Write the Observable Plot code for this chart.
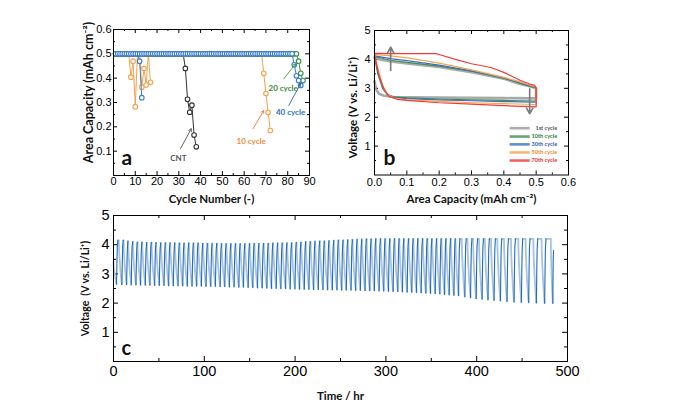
<!DOCTYPE html>
<html><head><meta charset="utf-8">
<script src="https://cdn.jsdelivr.net/npm/d3@7"></script>
<script src="https://cdn.jsdelivr.net/npm/@observablehq/plot@0.6"></script>
<style>
html,body{margin:0;padding:0;background:#fff;}
#wrap{position:relative;width:676px;height:418px;overflow:hidden;background:#fff;}
#wrap > svg{position:absolute;}
</style></head><body><div id="wrap"></div>
<script>
// ================= Panel a data (area capacity vs cycle) =================
const CNT_CAP = [0.5,0.5,0.5,0.5,0.5,0.5,0.5,0.5,0.5,0.5, 0.5,0.5,0.5,0.5,0.5,0.5,0.5,0.5,0.5,0.5, 0.5,0.5,0.5,0.5,0.5,0.5,0.5,0.5,0.5,0.5, 0.5,0.5, 0.44,0.313,0.26,0.289,0.166,0.118];
const ORANGE_A_CAP = [0.5,0.5,0.5,0.5,0.5,0.5,0.5, 0.404,0.47,0.283,0.5,0.5,0.363,0.44,0.372,0.5,0.383];
const ORANGE_B_CAP = [0.5,0.5,0.5,0.5,0.5,0.5,0.5,0.5,0.5,0.5, 0.5,0.5,0.5,0.5,0.5,0.5,0.5,0.5,0.5,0.5, 0.5,0.5,0.5,0.5,0.5,0.5,0.5,0.5,0.5,0.5, 0.5,0.5,0.5,0.5,0.5,0.5,0.5,0.5,0.5,0.5, 0.5,0.5,0.5,0.5,0.5,0.5,0.5,0.5,0.5,0.5, 0.5,0.5,0.5,0.5,0.5,0.5,0.5,0.5,0.5,0.5, 0.5,0.5,0.5,0.5,0.5,0.5,0.5,0.5, 0.42,0.337,0.259,0.185];
const BLUE_A_CAP = [0.5,0.5,0.5,0.5,0.5,0.5,0.5,0.5,0.5,0.5,0.5, 0.47,0.32];
const GREEN_CAP = [0.5,0.5,0.5,0.5,0.5,0.5,0.5,0.5,0.5,0.5, 0.5,0.5,0.5,0.5,0.5,0.5,0.5,0.5,0.5,0.5, 0.5,0.5,0.5,0.5,0.5,0.5,0.5,0.5,0.5,0.5, 0.5,0.5,0.5,0.5,0.5,0.5,0.5,0.5,0.5,0.5, 0.5,0.5,0.5,0.5,0.5,0.5,0.5,0.5,0.5,0.5, 0.5,0.5,0.5,0.5,0.5,0.5,0.5,0.5,0.5,0.5, 0.5,0.5,0.5,0.5,0.5,0.5,0.5,0.5,0.5,0.5, 0.5,0.5,0.5,0.5,0.5,0.5,0.5,0.5,0.5,0.5, 0.5,0.5,0.5,0.5, 0.47,0.42,0.39];
const BLUE_B_CAP = [0.5,0.5,0.5,0.5,0.5,0.5,0.5,0.5,0.5,0.5, 0.5,0.5,0.5,0.5,0.5,0.5,0.5,0.5,0.5,0.5, 0.5,0.5,0.5,0.5,0.5,0.5,0.5,0.5,0.5,0.5, 0.5,0.5,0.5,0.5,0.5,0.5,0.5,0.5,0.5,0.5, 0.5,0.5,0.5,0.5,0.5,0.5,0.5,0.5,0.5,0.5, 0.5,0.5,0.5,0.5,0.5,0.5,0.5,0.5,0.5,0.5, 0.5,0.5,0.5,0.5,0.5,0.5,0.5,0.5,0.5,0.5, 0.5,0.5,0.5,0.5,0.5,0.5,0.5,0.5,0.5,0.5, 0.5,0.5, 0.455,0.41,0.39,0.37];
const A_SERIES = [
  {name:"orangeA", cap:ORANGE_A_CAP, color:"#f4a24c"},
  {name:"cnt", cap:CNT_CAP, color:"#333333"},
  {name:"orangeB", cap:ORANGE_B_CAP, color:"#f4a24c"},
  {name:"green", cap:GREEN_CAP, color:"#3c9444"},
  {name:"blueA", cap:BLUE_A_CAP, color:"#3a7ccc"},
  {name:"blueB", cap:BLUE_B_CAP, color:"#3a7ccc"}
];
const A_X_TICKS = [0,10,20,30,40,50,60,70,80,90];
const A_X_MINOR = [5,15,25,35,45,55,65,75,85];
const A_Y_TICKS = [0.1,0.2,0.3,0.4,0.5,0.6];
const A_Y_MINOR = [0.05,0.15,0.25,0.35,0.45,0.55];
const A_NOTES = [
  {text:"CNT", x:29.8, y:0.07, color:"#555555"},
  {text:"10 cycle", x:63.2, y:0.14, color:"#f08a3a"},
  {text:"20 cycle", x:77.9, y:0.358, color:"#3a8a3a"},
  {text:"40 cycle", x:81.3, y:0.259, color:"#2f6fc0"}
];
const A_ARROWS = [
  {x1:30.8, y1:0.111, x2:35.7, y2:0.192, color:"#555555"},
  {x1:64.1, y1:0.192, x2:69.0, y2:0.267, color:"#f07a30"},
  {x1:78.2, y1:0.397, x2:83.6, y2:0.459, color:"#3a9a3a"},
  {x1:80.5, y1:0.288, x2:85.9, y2:0.377, color:"#3366b0"}
];

// ================= Panel b data (voltage vs area capacity) =================
const B_CYCLES = [
  {label:"1st cycle", color:"#9a9a9a", text:"#555555", width:2.6,
   cap:[0,0.005,0.015,0.03,0.06,0.1,0.2,0.3,0.4,0.5,0.5,0.48,0.45,0.4,0.3,0.2,0.1,0.05,0.02,0],
   volt:[3.25,2.95,2.8,2.74,2.7,2.69,2.68,2.67,2.66,2.65,3.0,3.07,3.15,3.33,3.56,3.74,3.86,3.93,3.99,4.06]},
  {label:"10th cycle", color:"#3f8f4f", text:"#2e7d3a", width:1.2,
   cap:[0,0.01,0.025,0.04,0.06,0.1,0.2,0.3,0.4,0.5,0.5,0.48,0.4,0.3,0.2,0.1,0.05,0],
   volt:[4.1,3.5,3.0,2.78,2.7,2.67,2.63,2.6,2.58,2.56,3.02,3.07,3.35,3.59,3.77,3.9,3.97,4.1]},
  {label:"30th cycle", color:"#3a6fc4", text:"#2f5fb0", width:1.2,
   cap:[0,0.01,0.025,0.04,0.06,0.1,0.2,0.3,0.4,0.5,0.5,0.48,0.4,0.3,0.2,0.1,0.05,0],
   volt:[4.12,3.6,3.05,2.78,2.68,2.64,2.6,2.57,2.54,2.52,3.02,3.08,3.36,3.6,3.8,3.96,4.03,4.12]},
  {label:"50th cycle", color:"#f5a64a", text:"#f08a2a", width:1.2,
   cap:[0,0.01,0.025,0.04,0.06,0.1,0.2,0.3,0.4,0.5,0.5,0.48,0.45,0.4,0.3,0.2,0.1,0.05,0],
   volt:[4.17,3.7,3.1,2.8,2.66,2.6,2.55,2.5,2.47,2.44,3.04,3.12,3.22,3.38,3.64,3.87,4.05,4.12,4.17]},
  {label:"70th cycle", color:"#f03a3a", text:"#e83030", width:1.2,
   cap:[0,0.005,0.015,0.03,0.045,0.07,0.1,0.2,0.3,0.4,0.5,0.5,0.495,0.48,0.45,0.4,0.36,0.3,0.25,0.2,0.19,0.1,0],
   volt:[4.2,3.9,3.4,2.95,2.72,2.62,2.58,2.5,2.45,2.4,2.36,3.0,3.1,3.15,3.28,3.55,3.72,3.85,4.0,4.17,4.2,4.2,4.21]}
];
const B_X_TICKS = [0,0.1,0.2,0.3,0.4,0.5,0.6];
const B_X_MINOR = [0.05,0.15,0.25,0.35,0.45,0.55];
const B_Y_TICKS = [1,2,3,4,5];
const B_Y_MINOR = [0.5,1.5,2.5,3.5,4.5];
const B_LEGEND_Y = [1.62,1.33,1.06,0.78,0.5];
const B_ARROWS = [{x1:0.05, y1:3.62, x2:0.05, y2:4.42}, {x1:0.48, y1:2.98, x2:0.48, y2:2.12}];

// ================= Panel c data (voltage vs time) =================
// time (hr) at which each cycle leaves its top voltage, that top voltage, and the bottom voltage it falls to
const C_DROP_T = [5.8,11.0,16.1,21.3,26.4,31.6,36.7,41.9,47.0,52.2,57.3,62.5,67.6,72.8,77.9,83.1,88.2,93.4,98.5,103.7,
 108.8,114.0,119.1,124.3,129.4,134.6,139.7,144.9,150.0,155.2,160.3,165.5,170.6,175.8,180.9,186.1,191.2,196.4,201.5,206.7,
 211.8,217.0,222.1,227.3,232.4,237.6,242.7,247.9,253.0,258.2,263.3,268.5,273.6,278.8,283.9,289.1,294.2,299.4,304.5,309.7,
 314.8,320.0,325.1,330.3,335.4,340.6,345.7,350.9,356.0,361.2,366.3,371.5,376.6,383.5,389.8,396.0,402.5,409.0,415.7,422.7,
 430.0,437.7,445.8,453.8,462.3,471.4,481.6];
const C_TOP_V = [4.15,4.15,4.12,4.10, 4.08,4.08,4.07,4.07,4.07,4.06,4.06,4.06,4.06,4.05,4.05,4.05,4.05,4.05,4.04,4.04,
 4.04,4.04,4.03,4.03,4.03,4.03,4.03,4.03,4.03,4.04,4.04,4.04,4.04,4.05,4.05,4.05,4.06,4.06,4.07,4.08,
 4.10,4.10,4.11,4.12,4.12,4.13,4.14,4.15,4.15,4.16,4.17,4.18,4.18, 4.19,4.19,
 4.2,4.2,4.2,4.2,4.2,4.2,4.2,4.2,4.2,4.2,4.2,4.2,4.2,4.2,4.2,4.2,4.2,4.2,4.2,4.2,4.2,4.2,4.2,4.2,4.2,4.2,4.2,4.2,4.2,4.2,4.2,4.2];
const C_MIN_V = [2.64,2.64,2.63,2.63,2.62,2.62,2.62,2.61,2.61,2.61,2.60,2.60,2.60,2.60,2.59,2.59,2.59,2.59,2.58,2.58,2.58,2.57,2.57,2.56,
 2.56,2.55,2.55,2.54,2.54,2.53,2.53,2.52,2.51,2.51,2.50,2.50,2.49,2.49,2.48,2.48,2.48,2.47,2.47,2.47,2.46,2.46,2.46,2.45,
 2.45,2.45,2.44,2.44,2.43,2.43,2.43,2.42,2.42,2.41,2.41,2.40,2.39,2.38,2.38,2.37,2.36,2.35,2.34,2.33,2.32,2.30,2.29,2.27,2.26,
 2.22,2.19,2.16,2.14,2.12,2.10,2.08,2.06,2.04,2.03,2.02,2.01,2.0,2.0];
const C_START = {v0:3.4, vMin:2.65, tMin:3.3};
const C_END = {t:484.6, v:3.8, lastFall:2.2};
const C_FALL_HOURS = 3.4;  // slow (light) part of each cycle
const C_RISE_HOURS = 1.5;  // fast (dark) part of each cycle
const C_X_TICKS = [0,100,200,300,400,500];
const C_X_MINOR = [50,150,250,350,450];
const C_Y_TICKS = [1,2,3,4,5];
const C_Y_MINOR = [0.5,1.5,2.5,3.5,4.5];

// ---------- helpers ----------
const TICK_FONT = "'Liberation Sans', Arial, sans-serif";
const TITLE_FONT = "Lato, 'Open Sans', sans-serif";
function innerTicks(xs, ys, fw, fh, len) {
  return [
    Plot.tickX(xs, {x: d => d, insetTop: fh - len, stroke: "#000"}),
    Plot.tickX(xs, {x: d => d, insetBottom: fh - len, stroke: "#000"}),
    Plot.tickY(ys, {y: d => d, insetRight: fw - len, stroke: "#000"}),
    Plot.tickY(ys, {y: d => d, insetLeft: fw - len, stroke: "#000"})
  ];
}
function place(svg, left, top) {
  svg.style.left = left + "px"; svg.style.top = top + "px";
  document.getElementById("wrap").appendChild(svg);
}

// ================= Panel a =================
{
  const W = 338, H = 210, L = 113, R = 309, T = 29, B = 175;
  const rows = [];
  A_SERIES.forEach(s => s.cap.forEach((c, i) => rows.push({series: s.name, cycle: i + 1, cap: c, color: s.color})));
  const marks = [];
  for (const s of A_SERIES) {
    const d = rows.filter(r => r.series === s.name);
    marks.push(Plot.line(d, {x: "cycle", y: "cap", stroke: s.color, strokeWidth: 1}));
    marks.push(Plot.dot(d, {x: "cycle", y: "cap", stroke: s.color, fill: "white", r: 2.3, strokeWidth: 1.1}));
  }
  const svg = Plot.plot({
    width: W, height: H, marginLeft: L, marginRight: W - R, marginTop: T, marginBottom: H - B,
    x: {domain: [0, 90]}, y: {domain: [0, 0.6]},
    style: {fontFamily: TICK_FONT, fontSize: "11px", background: "transparent", overflow: "visible", color: "#000"},
    marks: [
      ...innerTicks(A_X_TICKS, A_Y_TICKS, R - L, B - T, 4),
      ...innerTicks(A_X_MINOR, A_Y_MINOR, R - L, B - T, 2),
      Plot.axisX({ticks: A_X_TICKS, tickSize: 0, tickPadding: 2, label: null, tickFormat: d => String(d)}),
      Plot.axisY({ticks: A_Y_TICKS, tickSize: 0, tickPadding: 2, label: null, tickFormat: d => d.toFixed(1)}),
      ...marks,
      Plot.arrow(A_ARROWS, {x1: "x1", y1: "y1", x2: "x2", y2: "y2", stroke: "color", strokeWidth: 0.9, headLength: 5}),
      Plot.text(A_NOTES, {x: "x", y: "y", text: "text", fill: "color", fontSize: 8, fontWeight: "bold", fontFamily: TITLE_FONT}),
      Plot.text(["a"], {text: d => d, frameAnchor: "bottom-left", dx: 8, dy: -11, lineAnchor: "bottom", textAnchor: "start", fontSize: 21, fontWeight: "bold", fontFamily: TITLE_FONT, fill: "#111"}),
      Plot.text(["Cycle Number (-)"], {text: d => d, frameAnchor: "bottom", dy: 24, lineAnchor: "middle", textAnchor: "middle", fontSize: 11.5, fontWeight: "bold", fontFamily: TITLE_FONT, fill: "#111"}),
      Plot.text(["Area Capacity (mAh cm⁻²)"], {text: d => d, frameAnchor: "left", dx: -25, dy: -10, rotate: -90, lineAnchor: "middle", textAnchor: "middle", fontSize: 12.5, fontWeight: "bold", fontFamily: TITLE_FONT, fill: "#111"}),
      Plot.frame({stroke: "#000", strokeWidth: 1})
    ]
  });
  place(svg, 0, 0);
}

// ================= Panel b =================
{
  const W = 338, H = 210, L = 374 - 338, R = 568 - 338, T = 30, B = 174.5;
  const rows = [];
  B_CYCLES.forEach(c => c.cap.forEach((x, i) => rows.push({label: c.label, cap: x, volt: c.volt[i]})));
  const legend = B_CYCLES.map((c, i) => ({label: c.label, color: c.color, text: c.text, y: B_LEGEND_Y[i]}));
  const marks = B_CYCLES.map(c => Plot.line(rows.filter(r => r.label === c.label), {x: "cap", y: "volt", stroke: c.color, strokeWidth: c.width, strokeOpacity: c.width > 2 ? 0.85 : 1}));
  const svg = Plot.plot({
    width: W, height: H, marginLeft: L, marginRight: W - R, marginTop: T, marginBottom: H - B,
    x: {domain: [0, 0.6]}, y: {domain: [0, 5]},
    style: {fontFamily: TICK_FONT, fontSize: "11px", background: "transparent", overflow: "visible", color: "#000"},
    marks: [
      ...innerTicks(B_X_TICKS, B_Y_TICKS, R - L, B - T, 4),
      ...innerTicks(B_X_MINOR, B_Y_MINOR, R - L, B - T, 2),
      Plot.axisX({ticks: B_X_TICKS, tickSize: 0, tickPadding: 3, label: null, tickFormat: d => d.toFixed(1)}),
      Plot.axisY({ticks: B_Y_TICKS, tickSize: 0, tickPadding: 4, label: null, tickFormat: d => String(d)}),
      ...marks,
      Plot.arrow(B_ARROWS, {x1: "x1", y1: "y1", x2: "x2", y2: "y2", stroke: "#7a7a7a", strokeWidth: 1.6, headLength: 6}),
      Plot.link(legend, {x1: () => 0.418, x2: () => 0.48, y1: "y", y2: "y", stroke: "color", strokeWidth: 2.6, strokeOpacity: 0.8}),
      Plot.text(legend, {x: () => 0.565, y: "y", text: "label", fill: "text", textAnchor: "end", fontSize: 5.6, fontWeight: "bold", fontFamily: TITLE_FONT}),
      Plot.text(["b"], {text: d => d, frameAnchor: "bottom-left", dx: 9, dy: -10.5, lineAnchor: "bottom", textAnchor: "start", fontSize: 21, fontWeight: "bold", fontFamily: TITLE_FONT, fill: "#111"}),
      Plot.text(["Area Capacity (mAh cm⁻²)"], {text: d => d, frameAnchor: "bottom", dy: 24.5, lineAnchor: "middle", textAnchor: "middle", fontSize: 11.5, fontWeight: "bold", fontFamily: TITLE_FONT, fill: "#111"}),
      Plot.text(["Voltage (V vs. Li/Li⁺)"], {text: d => d, frameAnchor: "left", dx: -21.5, dy: 5, rotate: -90, lineAnchor: "middle", textAnchor: "middle", fontSize: 11.5, fontWeight: "bold", fontFamily: TITLE_FONT, fill: "#111"}),
      Plot.frame({stroke: "#000", strokeWidth: 1})
    ]
  });
  place(svg, 338, 0);
}

// ================= Panel c =================
{
  const W = 676, H = 213, L = 113, R = 567, T = 10, B = 156;
  const rows = [];
  let seg = 0;
  const FALL_F = [0, 0.08, 0.25, 0.5, 0.75, 1];
  const FALL_G = [0, 0.2, 0.42, 0.65, 0.84, 1];
  const RISE_F = [0, 0.15, 0.35, 0.6, 1];
  const RISE_G = [0, 0.2, 0.55, 0.85, 1];
  function fall(t0, v0, t1, v1) {
    seg++;
    FALL_F.forEach((f, i) => rows.push({t: t0 + f * (t1 - t0), v: v0 + (v1 - v0) * FALL_G[i], seg, ph: "light"}));
  }
  function rise(t0, v0, tTop, vTop, tNext) {
    seg++;
    const r = Math.min(C_RISE_HOURS, tNext - t0);
    RISE_F.forEach((f, i) => rows.push({t: t0 + f * r, v: v0 + (vTop - v0) * RISE_G[i], seg, ph: "dark"}));
    if (tNext - t0 > r + 0.01) {
      seg++;
      rows.push({t: t0 + r, v: vTop, seg, ph: "light"}, {t: tNext, v: vTop, seg, ph: "light"});
    }
  }
  fall(0, C_START.v0, C_START.tMin, C_START.vMin);
  rise(C_START.tMin, C_START.vMin, 0, C_TOP_V[0], C_DROP_T[0]);
  C_DROP_T.forEach((td, k) => {
    const last = k === C_DROP_T.length - 1;
    const te = td + (last ? C_END.lastFall : C_FALL_HOURS);
    fall(td, C_TOP_V[k], te, C_MIN_V[k]);
    if (last) rise(te, C_MIN_V[k], 0, C_END.v, C_END.t);
    else rise(te, C_MIN_V[k], 0, C_TOP_V[k + 1], C_DROP_T[k + 1]);
  });
  const svg = Plot.plot({
    width: W, height: H, marginLeft: L, marginRight: W - R, marginTop: T, marginBottom: H - B,
    x: {domain: [0, 500]}, y: {domain: [0, 5]},
    style: {fontFamily: TICK_FONT, fontSize: "14.5px", background: "transparent", overflow: "visible", color: "#000"},
    marks: [
      ...innerTicks(C_X_TICKS, C_Y_TICKS, R - L, B - T, 5),
      ...innerTicks(C_X_MINOR, C_Y_MINOR, R - L, B - T, 3),
      Plot.axisX({ticks: C_X_TICKS, tickSize: 0, tickPadding: 4, label: null, tickFormat: d => String(d)}),
      Plot.axisY({ticks: C_Y_TICKS, tickSize: 0, tickPadding: 4, label: null, tickFormat: d => String(d)}),
      Plot.line(rows.filter(r => r.ph === "light"), {x: "t", y: "v", z: "seg", stroke: "#a9c2e6", strokeWidth: 1.8}),
      Plot.line(rows.filter(r => r.ph === "dark"), {x: "t", y: "v", z: "seg", stroke: "#1f6cb8", strokeWidth: 1.1}),
      Plot.text(["c"], {text: d => d, frameAnchor: "bottom-left", dx: 8, dy: -7, lineAnchor: "bottom", textAnchor: "start", fontSize: 20, fontWeight: "bold", fontFamily: TITLE_FONT, fill: "#111"}),
      Plot.text(["Time / hr"], {text: d => d, frameAnchor: "bottom", dy: 35, lineAnchor: "middle", textAnchor: "middle", fontSize: 11.5, fontWeight: "bold", fontFamily: TITLE_FONT, fill: "#111"}),
      Plot.text(["Voltage  (V vs. Li/Li⁺)"], {text: d => d, frameAnchor: "left", dx: -28, rotate: -90, lineAnchor: "middle", textAnchor: "middle", fontSize: 10.5, fontWeight: "bold", fontFamily: TITLE_FONT, fill: "#111"}),
      Plot.frame({stroke: "#000", strokeWidth: 1})
    ]
  });
  place(svg, 0, 205);
}
</script></body></html>
